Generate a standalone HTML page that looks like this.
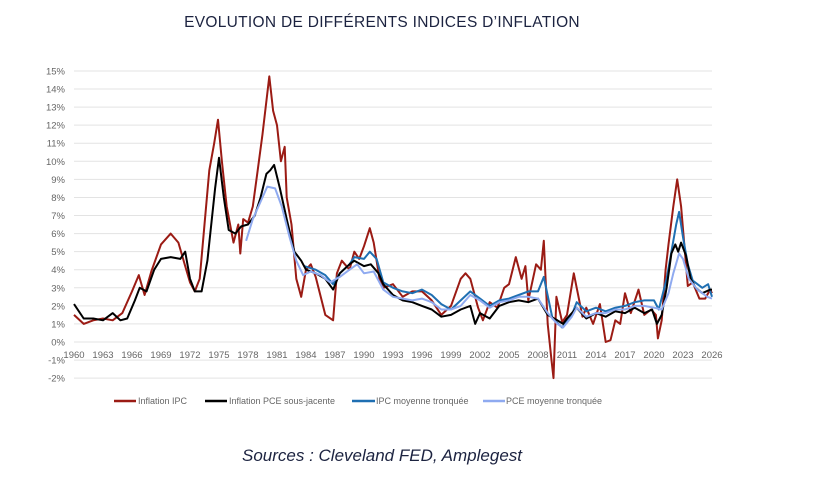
<!DOCTYPE html>
<html><head><meta charset="utf-8"><style>
body{margin:0;background:#fff;width:817px;height:494px;overflow:hidden;font-family:"Liberation Sans",sans-serif}
</style></head><body>
<svg id="c" width="817" height="494" xmlns="http://www.w3.org/2000/svg">
<text x="382" y="27" text-anchor="middle" font-size="15.5" fill="#1c2340" letter-spacing="0.3">EVOLUTION DE DIFFÉRENTS INDICES D’INFLATION</text>
<g id="grid"></g><g id="series"></g>
<g font-size="9" fill="#666">
<line x1="114" y1="401" x2="136" y2="401" stroke="#9b1b14" stroke-width="2.5"/>
<text x="138" y="404">Inflation IPC</text>
<line x1="205" y1="401" x2="227" y2="401" stroke="#000" stroke-width="2.5"/>
<text x="229" y="404">Inflation PCE sous-jacente</text>
<line x1="352" y1="401" x2="375" y2="401" stroke="#1f6fb2" stroke-width="2.5"/>
<text x="376" y="404">IPC moyenne tronquée</text>
<line x1="483" y1="401" x2="505" y2="401" stroke="#8faaf0" stroke-width="2.5"/>
<text x="506" y="404">PCE moyenne tronquée</text>
</g>
<text x="382" y="461" text-anchor="middle" font-size="17" font-style="italic" fill="#1c2340">Sources :  Cleveland FED, Amplegest</text>
</svg>
<script>
const yTicks=[-2,-1,0,1,2,3,4,5,6,7,8,9,10,11,12,13,14,15];
const xTicks=[1960,1963,1966,1969,1972,1975,1978,1981,1984,1987,1990,1993,1996,1999,2002,2005,2008,2011,2014,2017,2020,2023,2026];
const cpiYears=[1960,1961,1962,1963,1964,1965,1966,1966.7,1967.3,1968,1969,1970,1970.8,1971.5,1972,1972.5,1973,1973.5,1974,1974.5,1974.9,1975.3,1975.8,1976.5,1977,1977.2,1977.5,1978,1978.5,1979,1979.5,1980.2,1980.6,1981,1981.4,1981.8,1982,1982.5,1983,1983.5,1984,1984.5,1985,1986,1986.8,1987.2,1987.7,1988.5,1989,1989.5,1990,1990.6,1991,1991.6,1992,1993,1994,1995,1996,1997,1998,1999,2000,2000.5,2001,2001.8,2002.3,2003,2003.8,2004.5,2005,2005.7,2006.3,2006.7,2007,2007.8,2008.3,2008.6,2009,2009.4,2009.6,2009.9,2010.5,2011,2011.7,2012,2012.6,2013,2013.7,2014.4,2015,2015.5,2016,2016.5,2017,2017.6,2018.4,2019,2019.7,2020.2,2020.4,2020.8,2021.2,2021.5,2022,2022.4,2022.8,2023.2,2023.5,2024,2024.7,2025.3,2025.8,2026];
const cpiValues=[1.5,1.0,1.2,1.3,1.2,1.6,2.8,3.7,2.6,3.9,5.4,6.0,5.5,4.2,3.3,2.8,3.5,6.5,9.5,11,12.3,10,7.5,5.5,6.5,4.9,6.8,6.6,7.5,9.5,11.5,14.7,12.8,12,10,10.8,8,6.5,3.5,2.5,4,4.3,3.6,1.5,1.2,3.8,4.5,4.0,5.0,4.6,5.3,6.3,5.5,3.5,3.0,3.2,2.5,2.8,2.8,2.3,1.5,2.0,3.5,3.8,3.5,1.9,1.2,2.2,1.9,3,3.2,4.7,3.5,4.2,2.3,4.3,4.0,5.6,1.0,-1.0,-2.0,2.5,1.1,1.5,3.8,3.0,1.4,1.9,1.0,2.1,0,0.1,1.2,1.0,2.7,1.6,2.9,1.5,1.8,1.5,0.2,1.2,4,5.4,7.5,9.0,7.5,5,3.1,3.3,2.4,2.4,2.9,2.7];
const corePceYears=[1960,1961,1962,1963,1964,1964.8,1965.5,1966.3,1966.8,1967.5,1968.3,1969,1970,1971,1971.5,1972,1972.5,1973.2,1973.8,1974.6,1975,1975.5,1976,1976.7,1977.3,1978,1978.7,1979.3,1979.9,1980.3,1980.7,1981.3,1982,1982.8,1983.5,1984,1985,1986,1986.8,1987.5,1988.5,1989,1990,1990.7,1991.5,1992,1993,1994,1995,1996,1997,1998,1999,2000,2001,2001.5,2002,2003,2004,2005,2006,2007,2008,2009,2010,2010.6,2011,2012,2013,2014,2015,2016,2017,2018,2019,2019.8,2020.3,2020.8,2021.3,2021.8,2022.2,2022.5,2022.8,2023.3,2023.8,2024.3,2025,2025.8,2026];
const corePceValues=[2.1,1.3,1.3,1.2,1.6,1.2,1.3,2.3,3.0,2.8,4.0,4.6,4.7,4.6,5.0,3.5,2.8,2.8,4.5,8.5,10.2,8,6.2,6.0,6.4,6.5,7.0,8,9.3,9.5,9.8,8.5,6.8,5.0,4.5,4.0,3.8,3.5,2.9,3.8,4.3,4.5,4.2,4.3,3.8,3.2,2.6,2.3,2.2,2.0,1.8,1.4,1.5,1.8,2.0,1.0,1.6,1.3,2.0,2.2,2.3,2.2,2.4,1.5,1.2,1.0,1.3,1.9,1.3,1.6,1.4,1.7,1.6,1.9,1.6,1.8,1.0,1.5,3.0,4.9,5.4,5.0,5.5,4.8,3.5,3.0,2.7,2.9,2.9];
const trimCpiYears=[1983.8,1985,1986,1986.8,1987.5,1988.5,1989,1990,1990.6,1991.3,1992,1993,1994,1995,1996,1997,1998,1999,2000,2001,2002,2003,2004,2005,2006,2007,2008,2008.6,2009.5,2010.5,2011.5,2012,2013,2014,2015,2016,2017,2018,2019,2020,2020.5,2021.3,2021.8,2022.3,2022.6,2023,2023.5,2024,2025,2025.6,2026];
const trimCpiValues=[4.2,4.0,3.7,3.2,3.8,4.3,4.7,4.6,5.0,4.6,3.3,3.0,2.8,2.7,2.9,2.6,2.1,1.8,2.3,2.8,2.4,2.0,2.3,2.4,2.6,2.8,2.8,3.6,1.3,0.8,1.5,2.2,1.7,1.9,1.7,1.9,2.0,2.2,2.3,2.3,1.8,3.5,5.0,6.5,7.2,5.8,4.3,3.4,3.0,3.2,2.5];
const trimPceYears=[1977.8,1978.5,1979.5,1980,1980.8,1981.5,1982.3,1983,1983.7,1984.5,1985.5,1986.5,1987.5,1988.5,1989.3,1990,1991,1992,1993,1994,1995,1996,1997,1998,1999,2000,2001,2002,2003,2004,2005,2006,2007,2008,2009,2010,2010.6,2011.5,2012,2013,2014,2015,2016,2017,2018,2019,2020,2020.8,2021.5,2022,2022.6,2023,2023.6,2024.5,2025.5,2026];
const trimPceValues=[5.6,6.8,8.0,8.6,8.5,7.5,5.8,4.5,3.7,3.9,3.7,3.3,3.6,4.0,4.3,3.8,3.9,2.9,2.5,2.4,2.3,2.4,2.2,1.8,1.8,2.0,2.6,2.3,1.9,2.2,2.3,2.5,2.5,2.4,1.6,1.0,0.8,1.4,1.9,1.4,1.6,1.6,1.8,1.8,2.0,2.0,1.9,1.8,2.7,3.8,4.9,4.6,3.5,2.9,2.5,2.4];

const NS='http://www.w3.org/2000/svg';
const X0=74,X1=712,Y0=342,PPU=18.07;
const xs=y=>X0+(y-1960)*(X1-X0)/66;
const ys=v=>Y0-v*PPU;
const grid=document.getElementById('grid');
function mk(tag,attrs,parent){const e=document.createElementNS(NS,tag);for(const k in attrs)e.setAttribute(k,attrs[k]);parent.appendChild(e);return e;}
yTicks.forEach(t=>{
  const l=mk('line',{x1:X0,x2:X1,y1:ys(t),y2:ys(t),stroke:'#e3e3e3','stroke-width':1},grid);
  
  
  const tx=mk('text',{x:65,y:ys(t)+3.5,'text-anchor':'end','font-size':9.5,fill:'#666'},grid);
  tx.textContent=t+'%';
  
  
});
xTicks.forEach(t=>{
  const tx=mk('text',{x:xs(t),y:358,'text-anchor':'middle','font-size':9.5,fill:'#666'},grid);
  tx.textContent=t;
  
  
});
const ser=document.getElementById('series');
function line(xa,va,color,name){
  const d=xa.map((x,i)=>(i?'L':'M')+xs(x).toFixed(1)+','+ys(va[i]).toFixed(1)).join('');
  const p=mk('path',{d:d,fill:'none',stroke:color,'stroke-width':2,'stroke-linejoin':'round'},ser);
  
  
}
line(cpiYears,cpiValues,'#9b1b14','series-cpi');
line(trimCpiYears,trimCpiValues,'#1f6fb2','series-trimmed-cpi');
line(corePceYears,corePceValues,'#000000','series-core-pce');
line(trimPceYears,trimPceValues,'#8faaf0','series-trimmed-pce');
</script>
</body></html>
